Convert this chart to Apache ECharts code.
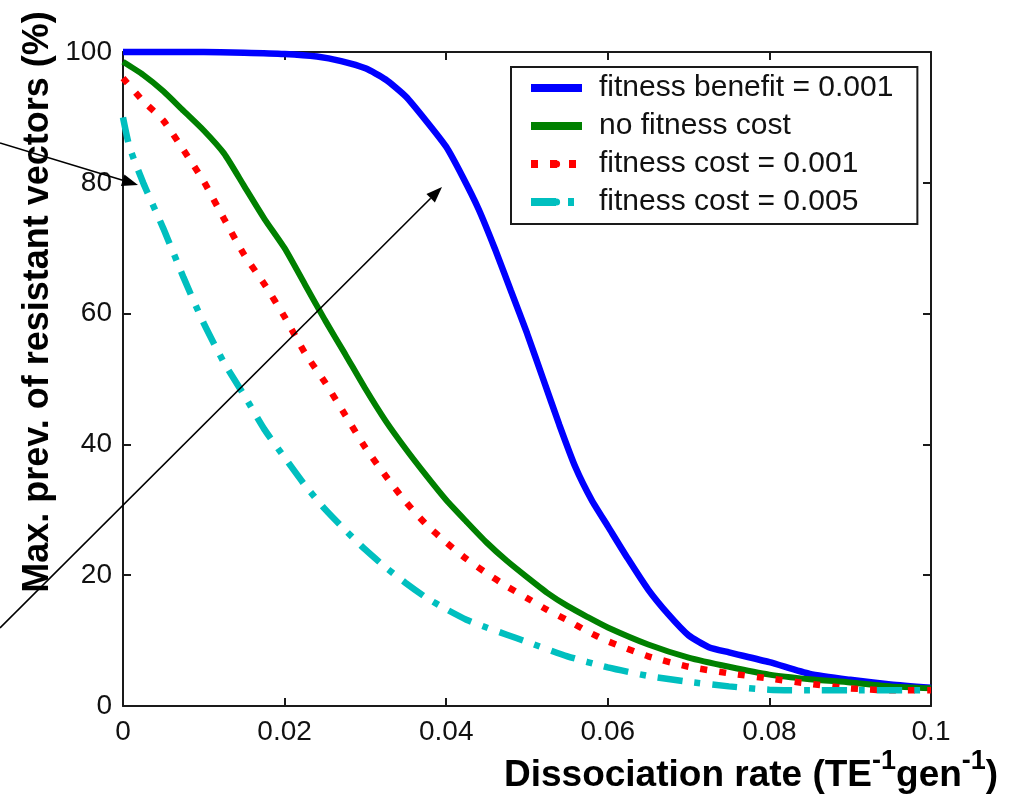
<!DOCTYPE html>
<html>
<head>
<meta charset="utf-8">
<script src="https://cdn.jsdelivr.net/npm/echarts@6/dist/echarts.min.js"></script>
<style>
  html, body { margin: 0; padding: 0; background: #fff; }
  #main { width: 1015px; height: 802px; }
</style>
</head>
<body>
<div id="main"></div>
<script>
// curves: [dissociation rate, max prevalence %]
const seriesNames = ['fitness benefit = 0.001', 'no fitness cost', 'fitness cost = 0.001', 'fitness cost = 0.005'];

const benefit = [[0,100],[0.01,100],[0.015,99.9],[0.02,99.7],[0.024,99.3],[0.027,98.6],[0.03,97.5],
  [0.0325,95.8],[0.035,93.2],[0.0375,89.5],[0.04,85.5],[0.042,81],[0.044,76],[0.046,70],[0.048,63.5],
  [0.05,57],[0.052,50],[0.054,43],[0.056,36.5],[0.058,31.5],[0.06,27.5],[0.0625,22.5],[0.065,17.8],
  [0.0675,14],[0.07,10.8],[0.0725,9],[0.075,8.2],[0.08,6.7],[0.085,4.9],[0.09,4],[0.095,3.3],[0.1,2.8]];

const noCost = [[0,98.5],[0.0025,96.5],[0.005,94],[0.0075,91],[0.01,88],[0.0125,84.5],[0.015,79.5],
  [0.0175,74.5],[0.02,70],[0.0225,64.5],[0.025,59],[0.0275,53.8],[0.03,48.5],[0.0325,43.6],[0.035,39.3],
  [0.0375,35.3],[0.04,31.5],[0.0425,28.2],[0.045,25],[0.0475,22.2],[0.05,19.7],[0.0525,17.3],[0.055,15.3],
  [0.0575,13.6],[0.06,12],[0.065,9.4],[0.07,7.4],[0.075,6],[0.08,4.8],[0.085,4.1],[0.09,3.6],[0.095,3],[0.1,2.7]];

const cost001 = [[0,96],[0.0025,92.5],[0.005,89.5],[0.0075,85],[0.01,80.2],[0.0125,74.5],[0.015,69],
  [0.0175,64.5],[0.02,59.5],[0.0225,54],[0.025,49.5],[0.0275,44.5],[0.03,39.5],[0.0325,35.2],[0.035,31.2],
  [0.0375,27.8],[0.04,25],[0.0425,22.5],[0.045,20.3],[0.0475,18.3],[0.05,16.5],[0.0525,14.7],[0.055,13.1],
  [0.0575,11.4],[0.06,9.9],[0.065,7.6],[0.07,6],[0.075,5],[0.08,4.2],[0.085,3.4],[0.09,2.7],[0.095,2.4],[0.1,2.4]];

const cost005 = [[0,90],[0.0008,85.5],[0.0025,80],[0.005,73],[0.0075,65.5],[0.01,58.5],[0.0125,52.5],
  [0.015,47.5],[0.0175,42.3],[0.02,38],[0.0225,33.8],[0.025,30.1],[0.0275,26.9],[0.03,23.9],[0.0325,21.2],
  [0.035,18.8],[0.0375,16.6],[0.04,14.8],[0.0425,13.2],[0.045,12],[0.0475,10.9],[0.05,9.8],[0.055,7.6],
  [0.06,5.9],[0.065,4.6],[0.07,3.7],[0.075,3],[0.08,2.5],[0.085,2.4],[0.09,2.4],[0.1,2.4]];

const FONT = "'Liberation Sans', Arial, sans-serif";
const AX = '#1a1a1a';

var myChart = echarts.init(document.getElementById('main'));

// simple arrow: a thin line plus a filled head
function arrow(x1, y1, x2, y2) {
  const a = Math.atan2(y2 - y1, x2 - x1);
  const len = 16, half = 6;
  const bx = x2 - len * Math.cos(a), by = y2 - len * Math.sin(a);
  return [
    { type: 'line', z: 100, shape: { x1: x1, y1: y1, x2: bx, y2: by },
      style: { stroke: '#000', lineWidth: 1.6 } },
    { type: 'polygon', z: 100, shape: { points: [[x2, y2],
        [bx + half * Math.sin(a), by - half * Math.cos(a)],
        [bx - half * Math.sin(a), by + half * Math.cos(a)]] },
      style: { fill: '#000' } }
  ];
}

function lineSeries(name, data, color, width, dash) {
  return {
    name: name, type: 'line', data: data,
    showSymbol: false, symbol: 'none', clip: false,
    smooth: 0.2,
    lineStyle: { color: color, width: width, type: dash || 'solid', cap: 'butt' },
    itemStyle: { color: color }
  };
}

var axisCommon = {
  axisLine: { show: true, onZero: false, lineStyle: { color: AX, width: 2 } },
  axisTick: { show: true, inside: true, length: 8, lineStyle: { color: AX, width: 2 } },
  splitLine: { show: false }
};

var option = {
  animation: false,
  backgroundColor: '#fff',
  grid: { left: 123, right: 84, top: 52, bottom: 96, containLabel: false },
  xAxis: [
    Object.assign({ type: 'value', min: 0, max: 0.1, interval: 0.02, position: 'bottom',
      axisLabel: { color: '#111', fontFamily: FONT, fontSize: 28, margin: 12 } }, axisCommon),
    Object.assign({ type: 'value', min: 0, max: 0.1, interval: 0.02, position: 'top',
      axisLabel: { show: false } }, axisCommon)
  ],
  yAxis: [
    Object.assign({ type: 'value', min: 0, max: 100, interval: 20, position: 'left',
      axisLabel: { color: '#111', fontFamily: FONT, fontSize: 28, margin: 11 } }, axisCommon),
    Object.assign({ type: 'value', min: 0, max: 100, interval: 20, position: 'right',
      axisLabel: { show: false } }, axisCommon)
  ],
  legend: {
    orient: 'vertical', left: 511, top: 67,
    data: seriesNames,
    itemWidth: 51, itemHeight: 9, itemGap: 8,
    padding: [6, 24, 7, 16],
    backgroundColor: '#fff', borderColor: AX, borderWidth: 2, borderRadius: 0,
    lineStyle: { width: 8 },
    textStyle: { color: '#111', fontFamily: FONT, fontSize: 30, lineHeight: 30, padding: [0, 0, 0, 12] }
  },
  series: [
    lineSeries(seriesNames[0], benefit, '#0000ff', 6.5),
    lineSeries(seriesNames[1], noCost, '#008000', 6),
    lineSeries(seriesNames[2], cost001, '#ff0000', 6.5, [7, 12]),
    lineSeries(seriesNames[3], cost005, '#00bfbf', 6.5, [25, 12, 6, 12])
  ],
  graphic: [].concat(
    arrow(0, 143, 138, 185),
    arrow(0, 628, 442, 187),
    [
      { type: 'text', z: 100, x: 38, y: 302, rotation: Math.PI / 2,
        style: { text: 'Max. prev. of resistant vectors (%)', font: 'bold 36px ' + FONT,
          fill: '#000', align: 'center', verticalAlign: 'middle' } },
      { type: 'text', z: 100, x: 504, y: 776,
        style: {
          text: '{m|Dissociation rate (TE}{s|-1}{m|gen}{s|-1}{m|)}',
          align: 'left', verticalAlign: 'middle',
          rich: {
            m: { fontFamily: FONT, fontWeight: 'bold', fontSize: 37, lineHeight: 56, fill: '#000' },
            s: { fontFamily: FONT, fontWeight: 'bold', fontSize: 27, lineHeight: 28, verticalAlign: 'top', fill: '#000' }
          }
        } }
    ]
  )
};

myChart.setOption(option);
</script>
</body>
</html>
